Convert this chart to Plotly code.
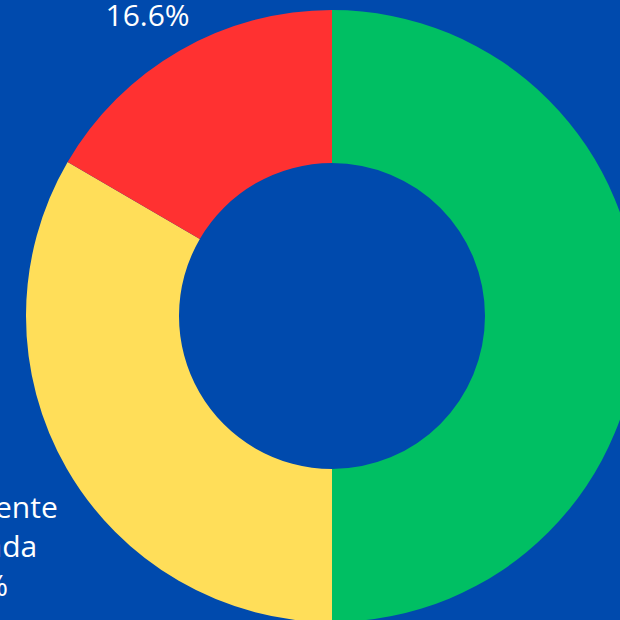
import plotly.graph_objects as go

labels = ["Meta<br>Adequada", "Meta<br>Parcialmente<br>Adequada", "Meta<br>Inadequada"]
values = [50.0, 33.4, 16.6]
colors = ["#00BF63", "#FFDE59", "#FF3131"]

# label anchor positions (paper coordinates) and anchors for each slice
label_x = [1.18, -0.098, 0.1985]
label_y = [0.5, 0.289, 0.956]
label_xanchor = ["center", "center", "center"]
label_yanchor = ["middle", "top", "bottom"]

total = sum(values)

fig = go.Figure(go.Pie(
    labels=labels,
    values=values,
    hole=0.5,
    sort=False,
    direction="clockwise",
    rotation=0,
    marker=dict(colors=colors, line=dict(width=0)),
    textinfo="none",
    hoverinfo="label+percent",
    showlegend=False,
))

for lab, v, x, y, xa, ya in zip(labels, values, label_x, label_y, label_xanchor, label_yanchor):
    fig.add_annotation(
        x=x, y=y, xref="paper", yref="paper",
        xanchor=xa, yanchor=ya,
        text=f"{lab}<br>{100 * v / total:.1f}%",
        showarrow=False,
        align="center",
        font=dict(family="Open Sans", size=30, color="white"),
    )

fig.update_layout(
    width=638,
    height=622,
    margin=dict(l=26, r=0, t=10, b=0),
    paper_bgcolor="#004AAD",
    plot_bgcolor="#004AAD",
    showlegend=False,
)

fig.write_html(
    "out.html",
    config={"displayModeBar": False},
    post_script="document.body.style.margin='0';document.body.style.overflow='hidden';document.body.style.background='#004AAD';",
)
